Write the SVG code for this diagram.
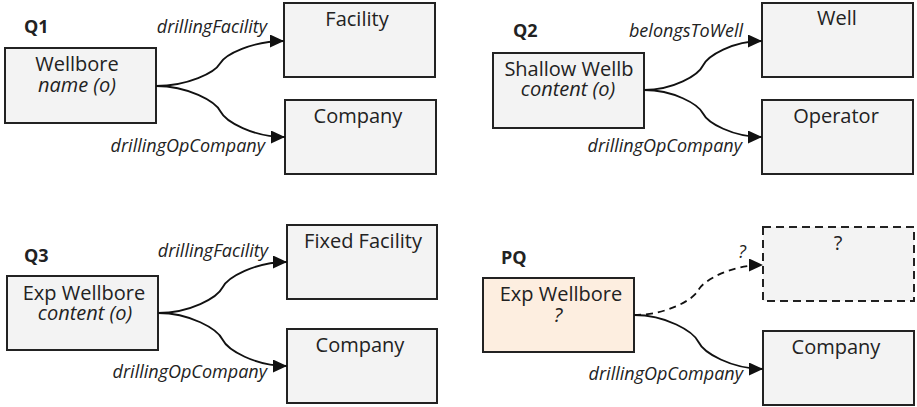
<svg xmlns="http://www.w3.org/2000/svg" width="917" height="407" viewBox="0 0 917 407">
<defs>
<marker id="arr" markerUnits="userSpaceOnUse" markerWidth="14" markerHeight="13" viewBox="0 0 14 13" refX="14" refY="6.5" orient="auto">
<path d="M0,0 L14,6.5 L0,13 z" fill="#111"/>
</marker>
<style>
.box{fill:#f3f3f3;stroke:#222;stroke-width:2}
.pbox{fill:#fdeee0;stroke:#222;stroke-width:2}
.dbox{fill:#f3f3f3;stroke:#222;stroke-width:2;stroke-dasharray:8 5}
.t{font-family:"Open Sans","Noto Sans","Liberation Sans",sans-serif;font-size:20px;fill:#222;text-anchor:middle}
.i{font-style:italic}
.q{font-family:"Open Sans","Noto Sans","Liberation Sans",sans-serif;font-size:18px;font-weight:bold;fill:#222}
.l{font-family:"Open Sans","Noto Sans","Liberation Sans",sans-serif;font-size:18px;font-style:italic;fill:#222;text-anchor:end}
.c{fill:none;stroke:#111;stroke-width:1.8;marker-end:url(#arr)}
.cd{fill:none;stroke:#111;stroke-width:1.8;stroke-dasharray:7 5;marker-end:url(#arr)}
</style>
</defs>
<text class="q" x="24" y="33">Q1</text>
<text class="q" x="513" y="37">Q2</text>
<text class="q" x="24" y="262">Q3</text>
<text class="q" x="501" y="264">PQ</text>
<g id="q1-wellbore"><rect class="box" x="5" y="48" width="151" height="75"/><text class="t"><tspan x="77" y="71">Wellbore</tspan><tspan class="i" x="77" y="92">name (o)</tspan></text></g>
<g id="q1-facility"><rect class="box" x="284" y="3" width="151" height="74"/><text class="t" x="357" y="26">Facility</text></g>
<g id="q1-company"><rect class="box" x="285" y="100" width="151" height="74"/><text class="t" x="358" y="123">Company</text></g>
<g id="q2-shallow"><rect class="box" x="493" y="53" width="151" height="75"/><text class="t"><tspan x="569" y="76">Shallow Wellb</tspan><tspan class="i" x="568" y="96">content (o)</tspan></text></g>
<g id="q2-well"><rect class="box" x="762" y="3" width="151" height="74"/><text class="t" x="837" y="25">Well</text></g>
<g id="q2-operator"><rect class="box" x="762" y="100" width="151" height="74"/><text class="t" x="836" y="123">Operator</text></g>
<g id="q3-expwellbore"><rect class="box" x="7" y="276" width="151" height="74"/><text class="t"><tspan x="84" y="300">Exp Wellbore</tspan><tspan class="i" x="85" y="320">content (o)</tspan></text></g>
<g id="q3-fixedfacility"><rect class="box" x="287" y="225" width="150" height="74"/><text class="t" x="363" y="248">Fixed Facility</text></g>
<g id="q3-company"><rect class="box" x="287" y="329" width="150" height="74"/><text class="t" x="360" y="352">Company</text></g>
<g id="pq-expwellbore"><rect class="pbox" x="483" y="278" width="151" height="74"/><text class="t"><tspan x="561" y="301">Exp Wellbore</tspan><tspan class="i" x="558" y="322">?</tspan></text></g>
<g id="pq-unknown"><rect class="dbox" x="763" y="227" width="151" height="74"/><text class="t" x="838" y="250">?</text></g>
<g id="pq-company"><rect class="box" x="763" y="331" width="151" height="74"/><text class="t" x="836" y="354">Company</text></g>
<g id="connectors">
<path class="c" d="M156,86 C188,86 214.9,72.5 220,63.5 C225.1,54.5 252,41 284,41"/>
<path class="c" d="M156,86 C188,86 215.3,101.3 220.5,111.5 C225.7,121.7 253,137 285,137"/>
<path class="c" d="M644,90 C673.5,90 698.3,75.3 703,65.5 C707.7,55.7 732.5,41 762,41"/>
<path class="c" d="M644,90 C673.5,90 698.3,104.1 703,113.5 C707.7,122.9 732.5,137 762,137"/>
<path class="c" d="M158,313 C190,313 217.3,297.7 222.5,287.5 C227.7,277.3 255,262 287,262"/>
<path class="c" d="M158,313 C190,313 217.3,328.9 222.5,339.5 C227.7,350.1 255,366 287,366"/>
<path class="cd" d="M634,315 C666,315 693.3,300 698.5,290 C703.7,280 731,265 763,265"/>
<path class="c" d="M634,315 C666,315 693.3,331.2 698.5,342 C703.7,352.8 731,369 763,369"/>
<text class="l" x="267" y="33">drillingFacility</text>
<text class="l" x="265" y="152">drillingOpCompany</text>
<text class="l" x="743" y="37">belongsToWell</text>
<text class="l" x="742" y="152">drillingOpCompany</text>
<text class="l" x="268" y="257">drillingFacility</text>
<text class="l" x="267" y="378">drillingOpCompany</text>
<text class="l" x="746" y="258">?</text>
<text class="l" x="743" y="380">drillingOpCompany</text>
</g>
</svg>
